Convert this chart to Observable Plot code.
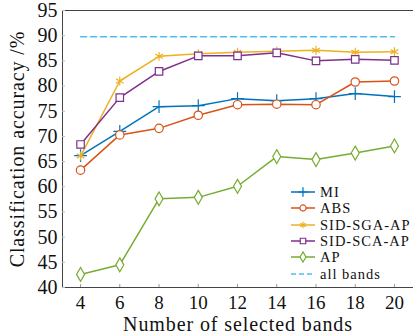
<!DOCTYPE html>
<html>
<head>
<meta charset="utf-8">
<script src="https://cdn.jsdelivr.net/npm/d3@7"></script>
<script src="https://cdn.jsdelivr.net/npm/@observablehq/plot@0.6"></script>
<style>
  html, body { margin: 0; padding: 0; background: #fff; }
  #wrap { position: relative; width: 413px; height: 335px; overflow: hidden; }
  #legend { position: absolute; left: 291px; top: 184px; width: 122px; white-space: nowrap; font-family: "Liberation Serif", "DejaVu Serif", serif; font-size: 14.5px; letter-spacing: 1px; font-weight: normal; color: #111; }
  #legend .row { display: flex; align-items: center; height: 16.3px; white-space: nowrap; }
  #legend .row span { background: #fff; line-height: 16px; }
  #legend svg { width: 24px; height: 16px; margin-right: 5px; overflow: visible; flex: none; }
  #chart svg text { font-family: "Liberation Serif", "DejaVu Serif", serif; }
</style>
</head>
<body>
<div id="wrap"><div id="chart"></div><div id="legend"></div></div>
<script>
const bands = [4, 6, 8, 10, 12, 14, 16, 18, 20];
const MI = [66.2, 71.0, 75.9, 76.1, 77.5, 77.1, 77.5, 78.5, 77.9];
const ABS = [63.3, 70.3, 71.6, 74.2, 76.3, 76.4, 76.3, 80.8, 81.0];
const SGA = [66.1, 81.0, 85.9, 86.4, 86.7, 86.9, 87.1, 86.7, 86.8];
const SCA = [68.4, 77.7, 82.9, 86.0, 86.0, 86.6, 85.0, 85.3, 85.1];
const AP = [42.6, 44.5, 57.6, 57.9, 60.1, 66.0, 65.4, 66.7, 68.1];
const allBands = 89.8;
const seriesNames = ["MI", "ABS", "SID-SGA-AP", "SID-SCA-AP", "AP"];
const seriesValues = [MI, ABS, SGA, SCA, AP];
const colors = ["#0072BD", "#D95319", "#EDB120", "#7E2F8E", "#77AC30"];
const symbols = ["plus", "circle", "asterisk", "square", "diamond"];
const allColor = "#4DBEEE";
const xTicks = [4, 6, 8, 10, 12, 14, 16, 18, 20];
const yTicks = [40, 45, 50, 55, 60, 65, 70, 75, 80, 85, 90, 95];

const rows = [];
seriesNames.forEach((name, i) => {
  bands.forEach((b, j) => rows.push({series: name, x: b, y: seriesValues[i][j]}));
});
const allRows = [{x: bands[0], y: allBands}, {x: bands[bands.length - 1], y: allBands}];

const font = "Liberation Serif, DejaVu Serif, serif";
const marks = [
  Plot.frame({anchor: "top", stroke: "#444"}),
  Plot.frame({anchor: "left", stroke: "#444"}),
  Plot.frame({anchor: "bottom", stroke: "#444"}),
  Plot.axisY(yTicks, {tickSize: -3, stroke: "#bbb", tickPadding: 8, fontSize: 20, fill: "#111",
    label: "Classification accuracy /%", labelAnchor: "center", labelOffset: 53, labelArrow: "none"}),
  Plot.axisX(xTicks, {tickSize: -3, stroke: "#999", tickPadding: 11, fontSize: 19, fill: "#111",
    label: "Number of selected bands", labelAnchor: "center", labelOffset: 43, labelArrow: "none"}),
  Plot.line(allRows, {x: "x", y: "y", stroke: allColor, strokeWidth: 1.6, strokeDasharray: "6,4"}),
];
seriesNames.forEach((name, i) => {
  const d = rows.filter(r => r.series === name);
  marks.push(Plot.line(d, {x: "x", y: "y", stroke: colors[i], strokeWidth: 1.5}));
  marks.push(Plot.dot(d, {x: "x", y: "y", stroke: colors[i], fill: "white", fillOpacity: symbols[i] === "plus" || symbols[i] === "asterisk" ? 0 : 1, symbol: symbols[i], r: 4.2, strokeWidth: 1.2}));
});

const chart = Plot.plot({
  width: 413,
  height: 335,
  marginLeft: 62,
  marginRight: 0,
  marginTop: 10,
  marginBottom: 48,
  style: {fontFamily: font, background: "white", overflow: "visible"},
  x: {domain: [3.08, 20.97], ticks: xTicks},
  y: {domain: [40, 95], ticks: yTicks},
  marks
});
document.getElementById("chart").appendChild(chart);
chart.querySelectorAll("[aria-label='x-axis label'] text, [aria-label='y-axis label'] text").forEach(t => {
  t.setAttribute("font-size", 20);
  t.style.letterSpacing = "0.9px";
});

const legend = document.getElementById("legend");
const legendItems = seriesNames.map((n, i) => ({name: n, color: colors[i], symbol: symbols[i], dash: false}))
  .concat([{name: "all bands", color: allColor, symbol: null, dash: true}]);
legendItems.forEach(item => {
  const row = document.createElement("div");
  row.className = "row";
  const svg = d3.create("svg");
  svg.append("line").attr("x1", 0).attr("x2", 24).attr("y1", 8).attr("y2", 8)
    .attr("stroke", item.color).attr("stroke-width", 1.5)
    .attr("stroke-dasharray", item.dash ? "5,3" : null);
  if (item.symbol) {
    const symMap = {plus: d3.symbolPlus, circle: d3.symbolCircle, asterisk: d3.symbolAsterisk, square: d3.symbolSquare, diamond: d3.symbolDiamond};
    svg.append("path").attr("d", d3.symbol(symMap[item.symbol], 30)())
      .attr("transform", "translate(12,8)")
      .attr("fill", (item.symbol === "plus" || item.symbol === "asterisk") ? "none" : "white")
      .attr("stroke", item.color).attr("stroke-width", 1.2);
  }
  row.appendChild(svg.node());
  const t = document.createElement("span");
  t.textContent = item.name;
  row.appendChild(t);
  legend.appendChild(row);
});
</script>
</body>
</html>
